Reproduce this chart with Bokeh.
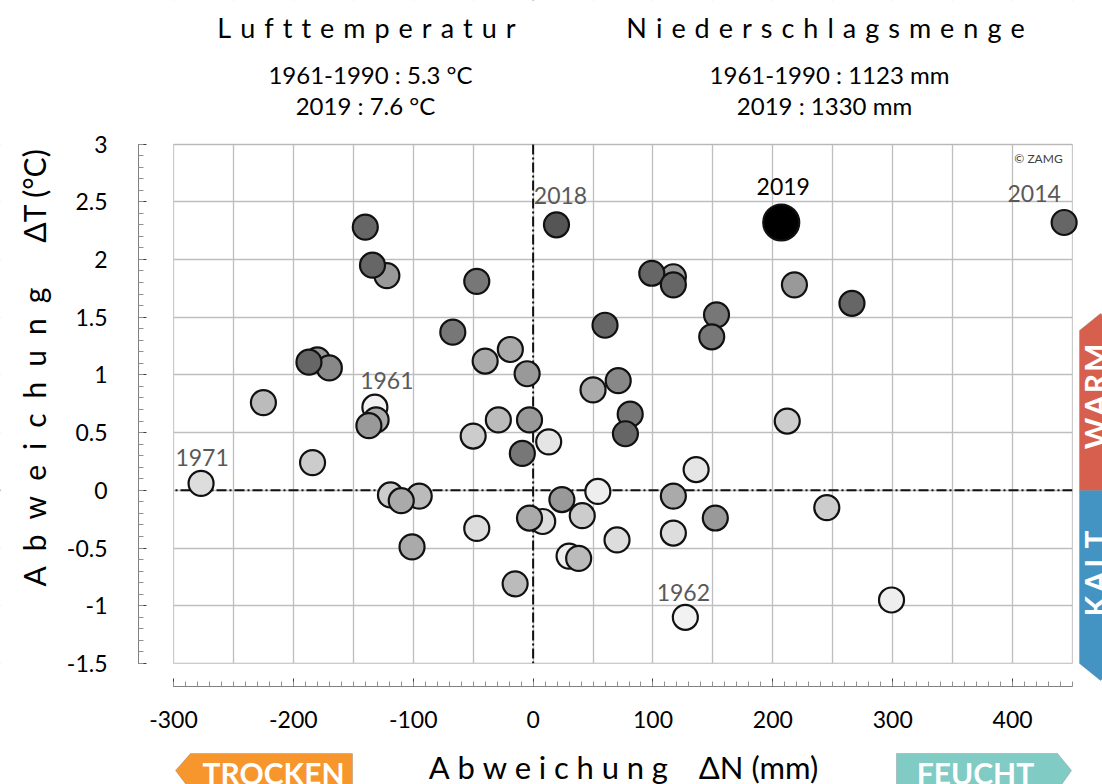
import math
from bokeh.plotting import figure
from bokeh.models import (Range1d, SingleIntervalTicker, BoxAnnotation, Span, Label, LabelSet,
                          PolyAnnotation, ColumnDataSource, CustomJSTickFormatter)
from bokeh.core.properties import value
from bokeh.embed import file_html
from bokeh.resources import INLINE

# ---------------- data ----------------
# precipitation anomaly dN (mm) and temperature anomaly dT (deg C)
dN = [-140, -134, -122, -47, -67, -19, -40, -5, -187, -180, -170, -225, -132, -131, -137,
      19.5, -29, -3, 50, -50, 13, 60, -277, -184, -119, -110, -95, -101, -9, -47,
      24, -3, 8, 41, 54, 30, 38, -15, 207, 99, 117, 117, 218, 266, 153,
      149, 71, 81, 77, 212, 136, 70, 117, 117, 152, 245, 127, 299, 443]
dT = [2.28, 1.95, 1.86, 1.81, 1.37, 1.22, 1.12, 1.01, 1.11, 1.13, 1.06, 0.76, 0.72, 0.61, 0.56,
      2.30, 0.61, 0.61, 0.87, 0.47, 0.42, 1.43, 0.06, 0.24, -0.04, -0.09, -0.05, -0.49, 0.32, -0.33,
      -0.08, -0.24, -0.27, -0.22, -0.01, -0.57, -0.59, -0.81, 2.32, 1.88, 1.85, 1.78, 1.78, 1.62, 1.52,
      1.33, 0.95, 0.66, 0.49, 0.60, 0.18, -0.43, -0.05, -0.37, -0.24, -0.15, -1.10, -0.95, 2.32]
# grey level of each marker (0 = black, 255 = white)
grey = [102, 102, 153, 119, 119, 170, 170, 153, 102, 153, 136, 187, 242, 170, 153,
        85, 187, 153, 170, 204, 229, 102, 221, 204, 204, 170, 187, 170, 119, 221,
        153, 170, 221, 204, 238, 238, 187, 187, 0, 102, 153, 102, 153, 102, 119,
        119, 136, 119, 102, 204, 229, 221, 170, 221, 153, 204, 242, 238, 102]
# labelled years and the index of their point
label_years = ["1961", "1962", "1971", "2014", "2018", "2019"]
label_index = [12, 56, 22, 58, 15, 38]

title_left = "Lufttemperatur"
title_right = "Niederschlagsmenge"
sub_left = ["1961-1990 : 5.3 °C", "2019 : 7.6 °C"]
sub_right = ["1961-1990 : 1123 mm", "2019 : 1330 mm"]
x_title = ("Abweichung", "ΔN (mm)")
y_title = ("Abweichung", "ΔT (°C)")

FONT = "Lato"
SP = "\u2004"   # three-per-em space
EN = "\u2002"   # en space


def spaced(s, sep=SP):
    return sep.join(s)


# ---------------- figure: the frame fills the whole canvas ----------------
W, H = 1102, 784
PX_MM = 1.1987      # pixels per mm
PX_C = 115.44       # pixels per deg C
X0 = -300 - 173 / PX_MM
X1 = X0 + W / PX_MM
Y1 = 3 + 143.5 / PX_C
Y0 = Y1 - H / PX_C


def px(page_x):
    return X0 + page_x / PX_MM


def py(page_y):
    return Y1 - page_y / PX_C


p = figure(width=W, height=H, output_backend="svg", toolbar_location=None,
           x_range=Range1d(X0, X1), y_range=Range1d(Y0, Y1),
           min_border=0, min_border_left=0, min_border_right=0, min_border_top=0, min_border_bottom=0)
p.title.visible = False
p.outline_line_color = None
p.background_fill_color = "white"
p.border_fill_color = "white"

fmt = CustomJSTickFormatter(code="return Number(tick.toFixed(2)).toString();")
p.xaxis.ticker = SingleIntervalTicker(interval=100, num_minor_ticks=10)
p.yaxis.ticker = SingleIntervalTicker(interval=0.5, num_minor_ticks=5)
p.xaxis.bounds = (-300, 450)
p.yaxis.bounds = (-1.5, 3)
p.xaxis.fixed_location = py(686)
p.yaxis.fixed_location = px(138)
p.xgrid.ticker = SingleIntervalTicker(interval=50)
p.ygrid.ticker = SingleIntervalTicker(interval=0.5)
for g in (p.xgrid, p.ygrid):
    g.grid_line_color = "#bebebe"
    g.grid_line_width = 1.3

for ax in (p.xaxis, p.yaxis):
    ax.formatter = fmt
    ax.axis_line_color = "#808080"
    ax.axis_line_width = 1
    ax.major_tick_in = 8
    ax.major_tick_out = 0
    ax.minor_tick_in = 5
    ax.minor_tick_out = 0
    ax.major_tick_line_color = "#404040"
    ax.minor_tick_line_color = "#909090"
    ax.major_label_text_font = FONT
    ax.major_label_text_font_size = "23px"
    ax.major_label_text_color = "black"
p.yaxis.major_label_standoff = 31
p.xaxis.major_label_standoff = 24

# zero lines
for dim in ("width", "height"):
    p.add_layout(Span(location=0, dimension=dim, line_color="#111111", line_width=2,
                      line_dash="10 3 2 3", level="underlay"))
# white masks outside the plot box (hide grid / zero lines there)
for kw in (dict(right=-300), dict(left=450), dict(top=-1.5), dict(bottom=3)):
    p.add_layout(BoxAnnotation(fill_color="white", fill_alpha=1, line_color=None, level="underlay", **kw))
# plot box
p.add_layout(BoxAnnotation(left=-300, right=450, bottom=-1.5, top=3, fill_alpha=0,
                           line_color="#9a9a9a", line_width=1, level="underlay"))

# ---------------- points ----------------
hi = label_index[label_years.index("2019")]
order = sorted(range(len(dN)), key=lambda i: -grey[i])
src = ColumnDataSource(dict(
    x=[dN[i] for i in order],
    y=[dT[i] for i in order],
    fill=["#%02x%02x%02x" % (grey[i], grey[i], grey[i]) for i in order],
    size=[36 if i == hi else 25 for i in order],
))
p.scatter("x", "y", source=src, size="size", fill_color="fill", line_color="#111111", line_width=2.2)

lab_off_x = {"1961": 12, "1962": -2, "1971": 1, "2014": -30, "2018": 4, "2019": 2}
lab_off_y = {"1961": 27, "1962": 25, "1971": 26, "2014": 29, "2018": 29, "2019": 36}
lsrc = ColumnDataSource(dict(
    x=[dN[i] for i in label_index],
    y=[dT[i] for i in label_index],
    text=label_years,
    xo=[lab_off_x[t] for t in label_years],
    yo=[lab_off_y[t] for t in label_years],
    color=["black" if t == "2019" else "#595959" for t in label_years],
))
p.add_layout(LabelSet(x="x", y="y", text="text", x_offset="xo", y_offset="yo", text_color="color",
                      source=lsrc, text_align="center", text_baseline="middle",
                      text_font=value(FONT), text_font_size=value("23px")))


# ---------------- texts ----------------
def lab(x, y, text, size, color="black", style="normal", angle=0.0):
    p.add_layout(Label(x=px(x), y=py(y), text=text, text_align="center", text_baseline="middle",
                       text_font=FONT, text_font_size=size, text_color=color,
                       text_font_style=style, angle=angle))


lab(366, 27, spaced(title_left), "27px")
lab(825, 27, spaced(title_right), "27px")
lab(370, 74, sub_left[0], "24px")
lab(365, 105, sub_left[1], "24px")
lab(829, 74, sub_right[0], "24px")
lab(824, 105, sub_right[1], "24px")
lab(1038, 158, "© ZAMG", "12px", color="#404040")
lab(623, 766, spaced(x_title[0], "\u2005") + SP * 3 + x_title[1], "31px")
lab(33, 367, spaced(y_title[0], EN) + EN * 3 + y_title[1], "30px", angle=math.pi / 2)


# ---------------- side arrows ----------------
def poly(pts, color):
    p.add_layout(PolyAnnotation(xs=[px(a) for a, b in pts], ys=[py(b) for a, b in pts],
                                fill_color=color, fill_alpha=1, line_color="#707070", line_width=1))


poly([(1079, 490), (1079, 330), (1100, 313), (1121, 330), (1121, 490)], "#d6604d")
poly([(1079, 490), (1079, 663), (1100, 680), (1121, 663), (1121, 490)], "#4393c3")
poly([(175, 770), (190, 753), (352, 753), (352, 790), (190, 790)], "#f7962d")
poly([(896, 753), (1057, 753), (1071, 770), (1057, 790), (896, 790)], "#80cbc4")

lab(1094, 396, spaced("WARM", "\u200a"), "30px", color="white", style="bold", angle=math.pi / 2)
lab(1094, 573, spaced("KALT", "\u2009"), "30px", color="white", style="bold", angle=math.pi / 2)
lab(273, 772, "TROCKEN", "30px", color="white", style="bold")
lab(975, 772, "FEUCHT", "30px", color="white", style="bold")

open("out.html", "w").write(file_html(p, INLINE))
